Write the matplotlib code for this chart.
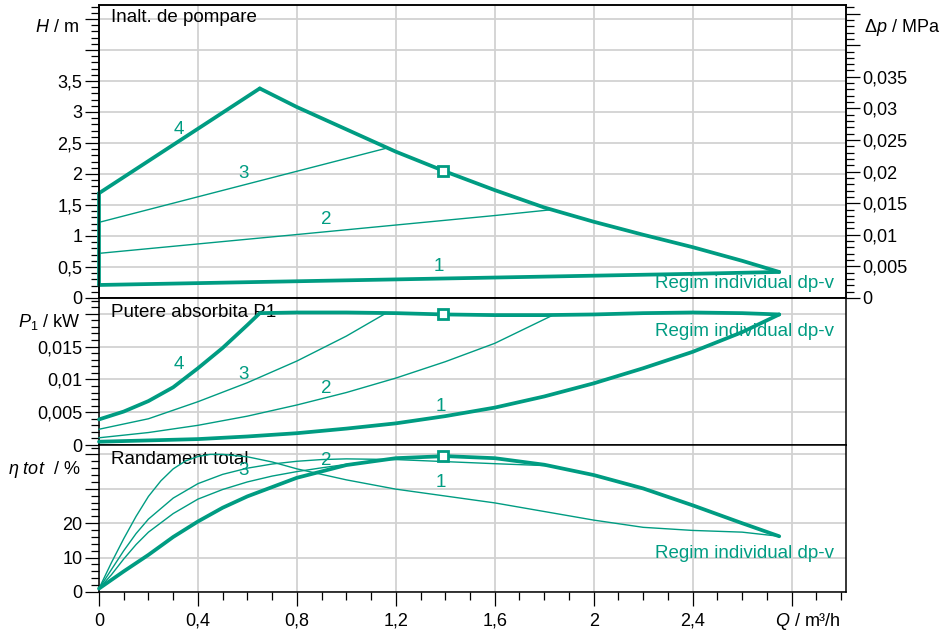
import matplotlib
matplotlib.use('Agg')
import matplotlib.pyplot as plt
from matplotlib.ticker import MultipleLocator, FuncFormatter

plt.rcParams['font.family'] = ['Liberation Sans', 'DejaVu Sans']
plt.rcParams['mathtext.fontset'] = 'custom'
plt.rcParams['mathtext.it'] = 'Liberation Sans:italic'
plt.rcParams['mathtext.rm'] = 'Liberation Sans'

# ---------------- data ----------------
# Head H [m] vs flow Q [m3/h]
H1_q = [0, 0.4, 0.8, 1.2, 1.6, 2.0, 2.4, 2.75]
H1_h = [0.21, 0.24, 0.27, 0.30, 0.33, 0.36, 0.39, 0.42]
H2_q = [0, 0.79, 1.6, 1.82]
H2_h = [0.72, 1.02, 1.33, 1.42]
H3_q = [0, 0.65, 1.156]
H3_h = [1.22, 1.89, 2.41]
H4_q = [0, 0.65]
H4_h = [1.69, 3.38]
Henv_q = [0.65, 0.8, 1.0, 1.2, 1.4, 1.6, 1.8, 2.0, 2.2, 2.4, 2.6, 2.75]
Henv_h = [3.38, 3.08, 2.72, 2.36, 2.04, 1.74, 1.46, 1.23, 1.02, 0.82, 0.60, 0.42]

# Power P1 [kW]
P1_q = [0, 0.2, 0.4, 0.6, 0.8, 1.0, 1.2, 1.4, 1.6, 1.8, 2.0, 2.2, 2.4, 2.6, 2.75]
P1_p = [0.0005, 0.0007, 0.0009, 0.0013, 0.0018, 0.0025, 0.0033, 0.0044, 0.0057,
        0.0074, 0.0094, 0.0117, 0.0142, 0.0172, 0.0199]
P2_q = [0, 0.2, 0.4, 0.6, 0.8, 1.0, 1.2, 1.4, 1.6, 1.83]
P2_p = [0.0011, 0.0019, 0.0030, 0.0044, 0.0061, 0.0080, 0.0102, 0.0127, 0.0155, 0.0197]
P3_q = [0, 0.2, 0.4, 0.6, 0.8, 1.0, 1.156]
P3_p = [0.0024, 0.0040, 0.0066, 0.0095, 0.0128, 0.0166, 0.0200]
P4_q = [0, 0.1, 0.2, 0.3, 0.4, 0.5, 0.6, 0.65]
P4_p = [0.0039, 0.0051, 0.0067, 0.0088, 0.0117, 0.0148, 0.0183, 0.0201]
Penv_q = [0.65, 0.8, 1.0, 1.2, 1.4, 1.6, 1.8, 2.0, 2.2, 2.4, 2.6, 2.75]
Penv_p = [0.0201, 0.0202, 0.0202, 0.0201, 0.0199, 0.0198, 0.0198, 0.0199, 0.0201,
          0.0202, 0.0201, 0.0199]

# Total efficiency [%]
E1_q = [0, 0.05, 0.1, 0.15, 0.2, 0.25, 0.3, 0.35, 0.4, 0.45, 0.5, 0.6, 0.7, 0.8,
        1.0, 1.2, 1.4, 1.6, 1.8, 2.0, 2.2, 2.4, 2.6, 2.75]
E1_e = [1, 8.5, 15.5, 22.0, 27.8, 32.3, 35.8, 38.1, 39.4, 40.0, 40.0, 39.3, 37.8,
        35.8, 32.6, 29.9, 27.9, 25.9, 23.4, 20.9, 18.8, 17.9, 17.4, 16.2]
E2_q = [0, 0.05, 0.1, 0.15, 0.2, 0.3, 0.4, 0.5, 0.6, 0.7, 0.8, 0.9, 1.0, 1.2, 1.4,
        1.6, 1.82]
E2_e = [1, 6.5, 12.0, 17.0, 21.2, 27.3, 31.5, 34.2, 36.0, 37.2, 38.0, 38.5, 38.7,
        38.5, 37.9, 37.3, 36.7]
E3_q = [0, 0.05, 0.1, 0.15, 0.2, 0.3, 0.4, 0.5, 0.6, 0.7, 0.8, 0.9, 1.0, 1.156]
E3_e = [1, 5.0, 9.6, 13.8, 17.4, 22.8, 27.0, 29.8, 32.0, 33.7, 35.0, 36.1, 37.1, 38.4]
E4_q = [0, 0.1, 0.2, 0.3, 0.4, 0.5, 0.6, 0.8, 1.0, 1.2, 1.4, 1.6, 1.8, 2.0, 2.2,
        2.4, 2.6, 2.75]
E4_e = [1, 6.0, 10.8, 16.0, 20.5, 24.5, 27.8, 33.2, 36.9, 38.9, 39.5, 38.9, 37.0,
        34.0, 30.1, 25.2, 20.0, 16.2]

# duty point
duty_q = 1.39
duty_h = 2.05
duty_p = 0.0199
duty_e = 39.5

curve_labels = ['1', '2', '3', '4']
lblH_q = [1.375, 0.92, 0.585, 0.322]
lblH_v = [0.51, 1.26, 2.01, 2.72]
lblP_q = [1.38, 0.92, 0.585, 0.322]
lblP_v = [0.0058, 0.0086, 0.0107, 0.0122]
lblE_q = [1.38, 0.92, 0.585]
lblE_v = [31.7, 38.1, 35.4]

mode_text = 'Regim individual dp-v'
rho_g = 0.00981  # MPa per m

# ---------------- style ----------------
GREEN = '#009c82'
GRIDC = '#d2d2d2'
FS = 13.5
FST = 13
THICK = 2.7
THIN = 1.0

W, HPX = 943, 636
fig = plt.figure(figsize=(W / 100, HPX / 100), dpi=100)


def px_axes(x0, y0, x1, y1):
    return fig.add_axes([x0 / W, 1 - y1 / HPX, (x1 - x0) / W, (y1 - y0) / HPX])


ax1 = px_axes(99, 5, 846, 298)
ax2 = px_axes(99, 298, 846, 445)
ax3 = px_axes(99, 445, 846, 592)


def fmt_comma(limit):
    def f(v, pos):
        if v > limit + 1e-9:
            return ''
        s = f'{v:.4f}'.rstrip('0').rstrip('.')
        if s == '-0':
            s = '0'
        return s.replace('.', ',')
    return FuncFormatter(f)


XMAX = 3.02
for ax in (ax1, ax2, ax3):
    ax.set_xlim(0, XMAX)
    ax.xaxis.set_major_locator(MultipleLocator(0.4))
    ax.xaxis.set_minor_locator(MultipleLocator(0.1))
    ax.grid(True, which='major', color=GRIDC, linewidth=1.3, zorder=0)
    ax.set_axisbelow(True)
    for s in ax.spines.values():
        s.set_linewidth(1.1)
        s.set_color('black')
    ax.tick_params(axis='y', which='major', direction='out', length=10, width=0.9,
                   pad=2, labelsize=FST)
    ax.tick_params(axis='y', which='minor', direction='out', length=6, width=0.9)

for ax in (ax1, ax2):
    ax.tick_params(axis='x', which='both', length=0, labelbottom=False)

ax3.tick_params(axis='x', which='major', direction='out', length=10, width=0.9,
                pad=5, labelsize=FST)
ax3.tick_params(axis='x', which='minor', direction='out', length=6, width=0.9)
ax3.xaxis.set_major_formatter(fmt_comma(2.5))

kw_thick = dict(color=GREEN, lw=THICK, solid_joinstyle='round', solid_capstyle='round',
                clip_on=False, zorder=3)
kw_thin = dict(color=GREEN, lw=THIN, clip_on=False, zorder=3)
kw_mark = dict(marker='s', ms=7, mfc='white', mec=GREEN, mew=2, zorder=4, clip_on=False)

# ----- panel 1: head -----
ax1.set_ylim(0, 293 / 62)
ax1.yaxis.set_major_locator(MultipleLocator(0.5))
ax1.yaxis.set_minor_locator(MultipleLocator(0.1))
ax1.yaxis.set_major_formatter(fmt_comma(3.5))

ax1.plot([0, 0], [H1_h[0], H4_h[0]], **kw_thick)
ax1.plot(H1_q, H1_h, **kw_thick)
ax1.plot(H4_q, H4_h, **kw_thick)
ax1.plot(Henv_q, Henv_h, **kw_thick)
ax1.plot(H2_q, H2_h, **kw_thin)
ax1.plot(H3_q, H3_h, **kw_thin)
ax1.plot([duty_q], [duty_h], **kw_mark)
for t, q, v in zip(curve_labels, lblH_q, lblH_v):
    ax1.text(q, v, t, color=GREEN, fontsize=FS, ha='center', va='center')
ax1.text(2.97, 0.23, mode_text, color=GREEN, fontsize=FS, ha='right', va='center')
ax1.text(0.016, 0.956, 'Inalt. de pompare', transform=ax1.transAxes, fontsize=FS,
         ha='left', va='center')

ax1r = ax1.twinx()
ax1r.set_ylim(0, 293 / 62 * rho_g)
ax1r.yaxis.set_major_locator(MultipleLocator(0.005))
ax1r.yaxis.set_minor_locator(MultipleLocator(0.001))
ax1r.yaxis.set_major_formatter(fmt_comma(0.035))
ax1r.tick_params(axis='y', which='major', direction='out', length=10, width=0.9,
                 pad=2, labelsize=FST)
ax1r.tick_params(axis='y', which='minor', direction='out', length=6, width=0.9)
for s in ax1r.spines.values():
    s.set_linewidth(1.1)

# ----- panel 2: power -----
ax2.set_ylim(0, 147 / 6560)
ax2.yaxis.set_major_locator(MultipleLocator(0.005))
ax2.yaxis.set_minor_locator(MultipleLocator(0.001))
ax2.yaxis.set_major_formatter(fmt_comma(0.015))
ax2.plot(P1_q, P1_p, **kw_thick)
ax2.plot(P4_q, P4_p, **kw_thick)
ax2.plot(Penv_q, Penv_p, **kw_thick)
ax2.plot(P2_q, P2_p, **kw_thin)
ax2.plot(P3_q, P3_p, **kw_thin)
ax2.plot([duty_q], [duty_p], **kw_mark)
for t, q, v in zip(curve_labels, lblP_q, lblP_v):
    ax2.text(q, v, t, color=GREEN, fontsize=FS, ha='center', va='center')
ax2.text(2.97, 0.01723, mode_text, color=GREEN, fontsize=FS, ha='right', va='center')
ax2.text(0.016, 0.898, 'Putere absorbita P1', transform=ax2.transAxes, fontsize=FS,
         ha='left', va='center', zorder=2)

# ----- panel 3: efficiency -----
ax3.set_ylim(0, 147 / 3.44)
ax3.yaxis.set_major_locator(MultipleLocator(10))
ax3.yaxis.set_minor_locator(MultipleLocator(2))
ax3.yaxis.set_major_formatter(fmt_comma(20))
ax3.plot(E4_q, E4_e, **kw_thick)
ax3.plot(E1_q, E1_e, **kw_thin)
ax3.plot(E2_q, E2_e, **kw_thin)
ax3.plot(E3_q, E3_e, **kw_thin)
ax3.plot([duty_q], [duty_e], **kw_mark)
for t, q, v in zip(curve_labels, lblE_q, lblE_v):
    ax3.text(q, v, t, color=GREEN, fontsize=FS, ha='center', va='center')
ax3.text(2.97, 11.25, mode_text, color=GREEN, fontsize=FS, ha='right', va='center')
ax3.text(0.016, 0.898, 'Randament total', transform=ax3.transAxes, fontsize=FS,
         ha='left', va='center', zorder=2)

# ----- axis titles -----
def ftext(xp, yp, s, ha):
    fig.text(xp / W, 1 - yp / HPX, s, fontsize=FST, ha=ha, va='center')

ftext(79, 28, r'$H$ / m', 'right')
ftext(864, 28, r'$\Delta p$ / MPa', 'left')
ftext(80, 322, r'$P_1$ / kW', 'right')
ftext(80, 469, r'$\eta\ tot$  / %', 'right')
ftext(841, 621, r'$Q$ / m³/h', 'right')

fig.savefig('out.png', dpi=100, facecolor='white')
